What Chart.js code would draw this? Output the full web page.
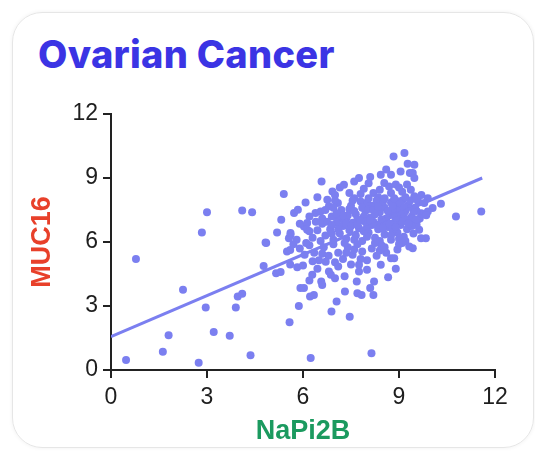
<!DOCTYPE html>
<html>
<head>
<meta charset="utf-8">
<script src="https://cdn.jsdelivr.net/npm/chart.js@4.4.1/dist/chart.umd.min.js"></script>
<style>
    html, body { margin: 0; padding: 0; background: #fff; }
    .wrap { position: relative; width: 535px; height: 451px; overflow: hidden; }
    .card {
        position: absolute; left: 12px; top: 12px; width: 522px; height: 436px;
        box-sizing: border-box; border: 1.5px solid #e6e6e6; border-radius: 30px;
        box-shadow: 0 0 4px rgba(0,0,0,0.06);
    }
    .titolo {
        position: absolute; left: 38px; top: 35px; margin: 0;
        font-family: 'Inter', sans-serif; font-weight: 800; font-size: 38px; line-height: 38px;
        color: #3b34e4; letter-spacing: 0.3px;
    }
    #grafico { position: absolute; left: 0; top: 0; }
</style>
</head>
<body>
<div class="wrap">
    <div class="card"></div>
    <h1 class="titolo">Ovarian Cancer</h1>
    <canvas id="grafico" width="535" height="451"></canvas>
</div>
<script>
// asse e etichette
var titoloX = 'NaPi2B';
var titoloY = 'MUC16';
var tickValori = [0, 3, 6, 9, 12];

// punti isolati [NaPi2B, MUC16]
var puntiIsolati = [
    [0.47,0.47],[0.78,5.2],[1.62,0.86],[1.8,1.63],[2.25,3.76],[2.74,0.34],[2.96,2.93],[3.21,1.78],[3.71,1.61],[3.9,2.93],
    [3.96,3.44],[4.1,3.57],[4.36,0.69],[6.24,0.56],[8.14,0.78],[2.84,6.45],[3.0,7.39],[4.1,7.48],[4.41,7.4],[5.58,2.24],
    [6.89,2.74],[7.46,2.5],[10.31,7.79],[10.78,7.2],[11.57,7.43],[4.77,4.88],[4.85,5.95]
];

// nuvola: fascia alta (MUC16 > 8)
var fasciaAlta = [
    [8.83,10.01],[9.17,10.17],[9.27,9.67],[9.34,9.23],[8.43,9.15],[8.75,9.15],[9.48,9.62],[9.43,9.23],[9.48,9.0],[7.6,8.84],
    [7.75,9.0],[8.1,9.05],[9.05,9.3],[8.6,9.4],[7.28,8.68],[8.54,8.76],[8.69,8.6],[9.37,8.45],[9.48,8.14],[6.58,8.84],
    [6.92,8.37],[5.4,8.25],[7.0,8.2],[7.45,8.3],[7.9,8.5],[8.2,8.3],[8.9,8.7],[9.1,8.35],[9.7,8.2],[8.35,8.1],
    [7.6,8.05],[9.9,8.05],[8.05,8.75],[7.15,8.55],[8.75,8.3],[9.25,8.7],[6.45,8.1],[7.8,8.25]
];

// fascia 7-8
var fascia7 = [
    [6.08,7.85],[5.72,7.36],[5.84,7.51],[5.32,7.04],[6.39,7.36],[6.55,7.43],[6.76,7.98],[6.81,7.67],[7.09,7.83],[10.05,7.59],
    [9.9,7.43],[9.79,7.83],[9.58,7.04],[6.9,7.2],[7.2,7.5],[7.35,7.1],[7.5,7.7],[7.65,7.3],[7.8,7.9],[7.95,7.45],
    [8.1,7.15],[8.15,7.7],[8.3,7.95],[8.4,7.4],[8.55,7.6],[8.6,7.1],[8.75,7.85],[8.85,7.35],[8.95,7.65],[9.05,7.1],
    [9.1,7.95],[9.2,7.45],[9.3,7.75],[9.4,7.2],[9.5,7.6],[9.6,7.9],[9.7,7.35],[7.0,7.95],[7.4,7.25],[7.7,7.05],
    [8.0,7.85],[8.25,7.3],[8.5,7.9],[8.7,7.25],[8.9,7.95],[9.15,7.3],[9.35,7.95],[9.55,7.45],[6.6,7.1],[6.2,7.2],
    [7.1,7.05],[7.55,7.95],[8.45,7.05],[9.0,7.5],[9.25,7.05],[9.65,7.1],[9.85,7.25],[8.8,7.55],[7.9,7.2]
];

// fascia 6-7
var fascia6 = [
    [6.03,6.73],[6.13,6.89],[6.13,6.57],[5.61,6.34],[5.56,6.18],[5.19,6.45],[5.61,6.42],[9.63,6.57],[9.84,6.18],[9.69,6.18],
    [6.3,6.2],[6.45,6.55],[6.6,6.85],[6.7,6.3],[6.85,6.6],[6.95,6.1],[7.05,6.9],[7.15,6.4],[7.25,6.75],[7.35,6.15],
    [7.45,6.55],[7.55,6.9],[7.65,6.3],[7.75,6.65],[7.85,6.05],[7.95,6.95],[8.05,6.45],[8.15,6.8],[8.25,6.2],[8.35,6.6],
    [8.45,6.9],[8.55,6.35],[8.65,6.7],[8.75,6.1],[8.85,6.9],[8.95,6.45],[9.05,6.8],[9.15,6.25],[9.25,6.6],[9.35,6.95],
    [9.45,6.4],[9.55,6.8],[6.4,6.95],[6.55,6.05],[6.9,6.4],[7.3,6.95],[7.6,6.1],[8.0,6.25],[8.4,6.05],[8.8,6.55],
    [9.2,6.05],[9.4,6.75],[7.1,6.6],[7.9,6.5],[8.6,6.95],[6.2,6.5],[5.9,6.85],[5.8,6.1],[6.75,6.95],[8.2,6.95],
    [9.0,6.15]
];

// fascia 5-6
var fascia5 = [
    [4.83,5.98],[5.5,5.55],[5.6,5.63],[9.43,5.71],[9.32,5.79],[8.75,5.24],[8.85,5.24],[5.9,5.7],[6.05,5.4],[6.2,5.85],
    [6.35,5.5],[6.5,5.15],[6.65,5.75],[6.8,5.35],[6.95,5.9],[7.1,5.5],[7.25,5.2],[7.4,5.75],[7.55,5.4],[7.7,5.9],
    [7.85,5.55],[8.0,5.15],[8.15,5.7],[8.3,5.35],[8.45,5.85],[8.6,5.5],[8.95,5.65],[9.1,5.95],[6.1,5.95],[6.6,5.45],
    [7.0,5.05],[7.3,5.95],[7.8,5.2],[8.4,5.6],[9.0,5.9],[5.7,5.9],[6.3,5.1],[7.6,5.65],[8.25,5.95]
];

// nucleo denso della nuvola
var nucleo = [
    [7.45,7.55],[7.6,7.45],[7.85,7.6],[8.05,7.55],[8.2,7.5],[8.35,7.65],[8.65,7.45],[8.8,7.7],[9.05,7.8],[9.15,7.6],
    [7.35,6.85],[7.5,6.75],[7.7,6.8],[7.8,7.0],[8.0,6.7],[8.1,7.0],[8.3,6.8],[8.5,6.65],[8.7,6.85],[8.9,6.7],
    [9.1,6.95],[9.3,6.85],[6.7,7.5],[6.95,7.6],[7.25,7.25],[8.9,7.15],[9.45,7.45],[9.55,7.05],[6.9,6.8],[7.05,7.35],
    [8.05,8.05],[8.55,8.05],[8.85,8.05],[9.2,8.1],[9.55,8.0],[8.4,8.45],[9.0,8.55],[7.35,5.5],[8.55,5.75],[8.75,6.3]
];

// fascia 3-5
var fasciaBassa = [
    [5.16,4.54],[5.3,4.59],[5.82,4.82],[6.29,4.46],[6.57,4.15],[6.6,3.99],[6.81,4.62],[6.87,4.46],[6.71,5.08],[7.75,4.62],
    [7.68,4.15],[8.22,4.15],[8.66,4.35],[8.43,4.93],[7.75,4.93],[6.0,4.9],[6.45,4.75],[7.1,4.85],[7.3,4.4],[7.5,4.95],
    [8.0,4.7],[8.9,4.75],[5.6,4.95],[6.2,4.2],[7.0,4.3],[5.92,3.84],[6.03,3.84],[6.22,3.44],[6.34,3.52],[7.31,3.68],
    [7.7,3.6],[7.83,3.52],[8.1,3.84],[8.2,3.52],[7.05,3.21],[5.87,3.0]
];

// retta di regressione
var rettaX = [0, 11.6];
var rettaY = [1.57, 9.0];

var colorePunti = '#7b7ff0';
var coloreAssi = '#222222';

function creaPunti(gruppi) {
    var punti = [];
    for (var g = 0; g < gruppi.length; g++) {
        for (var i = 0; i < gruppi[g].length; i++) {
            punti.push({ x: gruppi[g][i][0], y: gruppi[g][i][1] });
        }
    }
    return punti;
}

var datiPunti = creaPunti([puntiIsolati, fasciaAlta, fascia7, fascia6, fascia5, nucleo, fasciaBassa]);
var datiRetta = [];
for (var i = 0; i < rettaX.length; i++) {
    datiRetta.push({ x: rettaX[i], y: rettaY[i] });
}

function opzioniAsse(titolo, colore, isX) {
    return {
        type: 'linear',
        min: 0,
        max: 12,
        afterBuildTicks: function (scale) {
            scale.ticks = tickValori.map(function (v) { return { value: v }; });
        },
        afterFit: function (scale) {
            if (isX) { scale.height = 81; } else { scale.width = 89; }
        },
        border: { display: true, color: coloreAssi, width: 2 },
        grid: {
            drawOnChartArea: false,
            drawTicks: true,
            tickLength: 8,
            color: coloreAssi,
            lineWidth: 2
        },
        ticks: {
            color: '#1e1e1e',
            padding: isX ? 6 : 5,
            font: { family: "'Liberation Sans', Arial, sans-serif", size: 23 }
        },
        title: {
            display: true,
            text: titolo,
            color: colore,
            padding: { top: 4, bottom: 3 },
            font: { family: "'Liberation Sans', Arial, sans-serif", size: 27, weight: 'bold' }
        }
    };
}

var ctx = document.getElementById('grafico');
var grafico = new Chart(ctx, {
    type: 'scatter',
    data: {
        datasets: [{
            label: 'campioni',
            data: datiPunti,
            backgroundColor: colorePunti,
            borderWidth: 0,
            pointRadius: 4,
            order: 2
        }, {
            label: 'regressione',
            data: datiRetta,
            showLine: true,
            borderColor: colorePunti,
            borderWidth: 3,
            pointRadius: 0,
            order: 1
        }]
    },
    options: {
        responsive: false,
        animation: false,
        layout: { padding: { left: 22, right: 40, top: 114, bottom: 0 } },
        plugins: {
            legend: { display: false },
            tooltip: { enabled: false }
        },
        scales: {
            x: opzioniAsse(titoloX, '#1b9a5f', true),
            y: opzioniAsse(titoloY, '#e8402a', false)
        }
    }
});
</script>
</body>
</html>
